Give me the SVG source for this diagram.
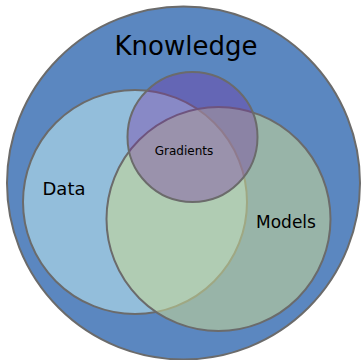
<svg xmlns="http://www.w3.org/2000/svg" width="362" height="360" viewBox="0 0 362 360">
<style>
.c{stroke:#6b6b6b;stroke-width:2}
.t{font-family:"DejaVu Sans",sans-serif;fill:#000;text-anchor:middle}
</style>
<rect width="362" height="360" fill="#fff"/>
<g id="knowledge">
<circle class="c" cx="183.5" cy="183" r="176.5" fill="#5b87c0"/>
<text class="t" x="186" y="55" font-size="26">Knowledge</text>
</g>
<g id="data">
<circle class="c" cx="135" cy="202" r="112" fill="#93bedb"/>
<text class="t" x="64" y="195" font-size="18">Data</text>
</g>
<g id="models">
<circle class="c" cx="218.5" cy="219" r="112" fill="rgb(198,214,150)" fill-opacity="0.57"/>
<text class="t" x="286" y="228" font-size="17">Models</text>
</g>
<g id="gradients">
<circle class="c" cx="192.5" cy="137" r="65" fill="rgb(117,43,161)" fill-opacity="0.36"/>
<text class="t" x="184" y="155" font-size="12">Gradients</text>
</g>
<g id="connectors"/>
</svg>
